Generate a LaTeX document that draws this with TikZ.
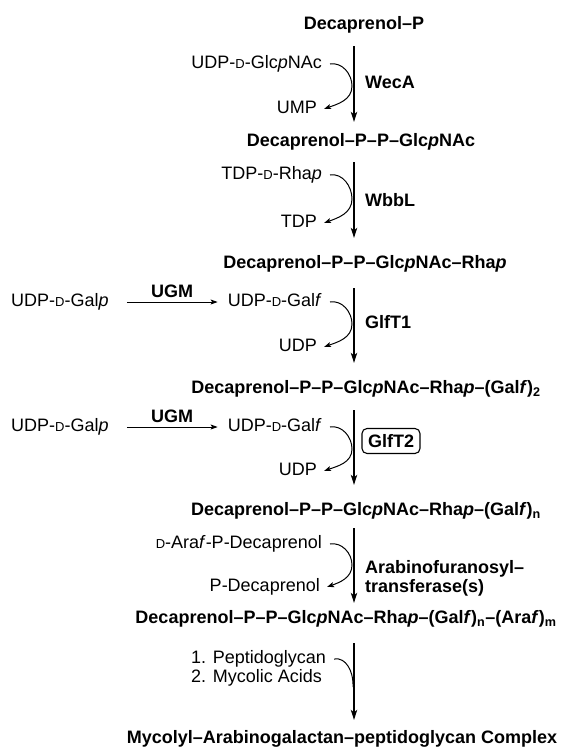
\documentclass[tikz,border=0pt]{standalone}
\usepackage{fontspec}
\setmainfont{Liberation Sans}
\usetikzlibrary{arrows.meta}
\newcommand{\smD}{{\fontsize{13}{13}\selectfont D}}

\begin{document}
\begin{tikzpicture}
[x=1pt,y=-1pt,%%%%%%%%%%%%%%%%%%%%%%%%%%%%%%
lbl/.style={inner sep=0pt, text height=13pt, text depth=4pt, font=\fontsize{18}{21}\selectfont},
cpd/.style={lbl, font=\fontsize{18}{21}\selectfont\bfseries},
src/.style={lbl, anchor=east},
enz/.style={lbl, anchor=west, font=\fontsize{18}{21}\selectfont\bfseries},
enzbox/.style={draw, rounded corners=5pt, line width=1.1pt, inner xsep=6pt, inner ysep=6pt,
  text height=13pt, text depth=0pt, font=\fontsize{18}{21}\selectfont\bfseries},
mainarrow/.style={line width=1.1pt, -{Stealth[length=10pt,width=6.5pt,inset=2.5pt]}},
sidearrow/.style={line width=1pt, -{Stealth[length=7pt,width=5pt,inset=1.5pt]}},
]%%%%%%%%%%%%%%%%%%%%%%%%%%%%%%

\useasboundingbox (0,0) rectangle (563,750);
\coordinate (axis) at (354,0);

% intermediates
\node[cpd] (L0) at (364,25) {Decaprenol--P};
\node[cpd] (L1) at (361,142) {Decaprenol--P--P--Glc\textit{p}NAc};
\node[cpd] (L2) at (365,264) {Decaprenol--P--P--Glc\textit{p}NAc--Rha\textit{p}};
\node[cpd] (L3) at (366,389) {Decaprenol--P--P--Glc\textit{p}NAc--Rha\textit{p}--(Gal\textit{f})\textsubscript{2}};
\node[cpd] (L4) at (366,511) {Decaprenol--P--P--Glc\textit{p}NAc--Rha\textit{p}--(Gal\textit{f})\textsubscript{n}};
\node[cpd] (L5) at (346,619) {Decaprenol--P--P--Glc\textit{p}NAc--Rha\textit{p}--(Gal\textit{f})\textsubscript{n}--(Ara\textit{f})\textsubscript{m}};
\node[cpd] (L6) at (342,739) {Mycolyl--Arabinogalactan--peptidoglycan Complex};

\foreach \a/\b/\s/\e in {L0/L1/12.5/11.5, L1/L2/11.5/17.5, L2/L3/15.5/17.5,
  L3/L4/12.5/17.5, L4/L5/8.5/7.5, L5/L6/15.5/10.5}
\draw[mainarrow, shorten <=\s pt, shorten >=\e pt] (\a.south -| axis) -- (\b.north -| axis);

% donors and released groups
\node[src] (s1) at (322,64) {UDP-\smD-Glc\textit{p}NAc};
\node[src] (p1) at (317,109) {UMP};
\node[src] (s2) at (322,175) {TDP-\smD-Rha\textit{p}};
\node[src] (p2) at (317,223) {TDP};
\node[src] (s3) at (322,302) {UDP-\smD-Gal\textit{f}};
\node[src] (p3) at (317,347) {UDP};
\node[src] (s4) at (322,427) {UDP-\smD-Gal\textit{f}};
\node[src] (p4) at (317,471) {UDP};
\node[src] (s5) at (322,544) {\smD-Ara\textit{f}-P-Decaprenol};
\node[src] (p5) at (320,587) {P-Decaprenol};

\foreach \i/\y in {1/86,2/199,3/324,4/449,5/565}
\coordinate (t\i) at (352,\y);
\foreach \i in {1,...,5}
\draw[sidearrow] ([xshift=8pt]s\i.east) to[out=10,in=90] (t\i) to[out=-90,in=20] ([xshift=7pt]p\i.east);

% enzymes
\node[enz] (WecA) at (365,84) {WecA};
\node[enz] (WbbL) at (365,202) {WbbL};
\node[enz] (GlfT1) at (365,324) {GlfT1};
\node[enzbox] (GlfT2) at (391,441) {GlfT2};
\node[anchor=west, inner sep=0pt, align=left, font=\fontsize{18}{19}\selectfont\bfseries] (AraT) at (365,578)
  {Arabinofuranosyl--\\transferase(s)};

% UGM isomerisation
\node[lbl, anchor=west] (g3) at (11,302) {UDP-\smD-Gal\textit{p}};
\node[lbl, anchor=west] (g4) at (11,427) {UDP-\smD-Gal\textit{p}};
\foreach \g/\s in {g3/s3, g4/s4}
\draw[sidearrow] ([xshift=18pt]\g.east) -- node[above, cpd] {UGM} ([xshift=-10pt]\s.west);

% final step
\node[lbl, anchor=west] (pep1) at (191,659) {1. Peptidoglycan};
\node[lbl, anchor=west] (pep2) at (191,678) {2. Mycolic Acids};
\coordinate (t6) at (353,684);
\draw[line width=1pt] ([xshift=8pt]pep1.east) to[out=10,in=90] (t6) -- ++(0,3);
\end{tikzpicture}
\end{document}
